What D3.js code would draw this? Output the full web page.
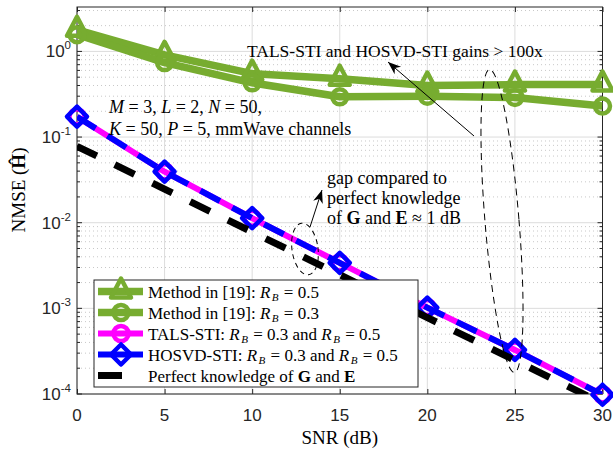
<!DOCTYPE html>
<html>
<head>
<meta charset="utf-8">
<script src="https://cdn.jsdelivr.net/npm/d3@7"></script>
<style>
  body { margin: 0; background: #fff; }
  svg { display: block; }
</style>
</head>
<body>
<main></main>
<script>
// NMSE vs SNR, log scale

const snr = [0, 5, 10, 15, 20, 25, 30];
const methodRb05 = [1.79, 0.91, 0.55, 0.48, 0.40, 0.41, 0.41];
const methodRb03 = [1.57, 0.74, 0.43, 0.295, 0.30, 0.29, 0.23];
const talsSti = [0.173, 0.0394, 0.0113, 0.0034, 0.00102, 0.000327, 0.000098];
const hosvdSti = [0.173, 0.0394, 0.0113, 0.0034, 0.00102, 0.000327, 0.000098];
const perfectCsi = [0.078, 0.0247, 0.0078, 0.00247, 0.00078, 0.000247, 0.000078];
const xTicks = [0, 5, 10, 15, 20, 25, 30];
const yTickExp = [0, -1, -2, -3, -4];

const w = 613, h = 450;
const pLeft = 77, pRight = 602.5, pTop = 7, pBottom = 394;
const green = "#77ac30";
const serif = "'Liberation Serif', 'Times New Roman', serif";
const sans = "'Liberation Sans', Arial, sans-serif";
const EQ = "\u2005=\u2005";

const svg = d3.select("main").append("svg").attr("width", w).attr("height", h);

const xScale = d3.scaleLinear().domain([0, 30]).range([pLeft, pRight]);
const yScale = d3.scaleLog().domain([1e-4, 3.3]).range([pBottom, pTop]);

// grid
const minorVals = [];
for (let e = -4; e <= 0; e++) {
  for (let m = 2; m <= 9; m++) {
    const v = m * Math.pow(10, e);
    if (v < 3.3) minorVals.push(v);
  }
}
const grid = svg.append("g");
grid.selectAll(".minor").data(minorVals).enter().append("line")
  .attr("x1", pLeft).attr("x2", pRight)
  .attr("y1", d => yScale(d)).attr("y2", d => yScale(d))
  .attr("stroke", "#c8c8c8").attr("stroke-width", 1).attr("stroke-dasharray", "1,3");
grid.selectAll(".majy").data(yTickExp).enter().append("line")
  .attr("x1", pLeft).attr("x2", pRight)
  .attr("y1", d => yScale(Math.pow(10, d))).attr("y2", d => yScale(Math.pow(10, d)))
  .attr("stroke", "#dcdcdc").attr("stroke-width", 1);
grid.selectAll(".majx").data(xTicks).enter().append("line")
  .attr("y1", pTop).attr("y2", pBottom)
  .attr("x1", d => xScale(d)).attr("x2", d => xScale(d))
  .attr("stroke", "#dcdcdc").attr("stroke-width", 1);

// axes box with inside ticks
const axes = svg.append("g");
axes.append("rect").attr("x", pLeft).attr("y", pTop)
  .attr("width", pRight - pLeft).attr("height", pBottom - pTop)
  .attr("fill", "none").attr("stroke", "#262626").attr("stroke-width", 1);

const xAxisB = d3.axisBottom(xScale).tickValues(xTicks).tickSize(-5).tickFormat("");
const xAxisT = d3.axisTop(xScale).tickValues(xTicks).tickSize(-5).tickFormat("");
axes.append("g").attr("transform", `translate(0,${pBottom})`).call(xAxisB);
axes.append("g").attr("transform", `translate(0,${pTop})`).call(xAxisT);
[pLeft, pRight].forEach((xx, i) => {
  const dir = i === 0 ? 1 : -1;
  axes.selectAll(null).data(yTickExp).enter().append("line")
    .attr("x1", xx).attr("x2", xx + dir * 5)
    .attr("y1", d => yScale(Math.pow(10, d))).attr("y2", d => yScale(Math.pow(10, d)))
    .attr("stroke", "#262626");
  axes.selectAll(null).data(minorVals).enter().append("line")
    .attr("x1", xx).attr("x2", xx + dir * 3)
    .attr("y1", d => yScale(d)).attr("y2", d => yScale(d))
    .attr("stroke", "#262626");
});
axes.selectAll(".domain").remove();
axes.selectAll(".tick line").attr("stroke", "#262626");

// tick labels
svg.selectAll(".xlab").data(xTicks).enter().append("text")
  .attr("x", d => xScale(d)).attr("y", 421)
  .attr("text-anchor", "middle").attr("font-family", sans).attr("font-size", 17)
  .attr("fill", "#262626").text(d => d);

yTickExp.forEach(e => {
  const t = svg.append("text")
    .attr("x", 71).attr("y", yScale(Math.pow(10, e)) + 6)
    .attr("text-anchor", "end").attr("font-family", sans).attr("font-size", 17)
    .attr("fill", "#262626");
  t.append("tspan").text("10");
  t.append("tspan").attr("font-size", 11.5).attr("dy", -8).text(e);
});

// rich text helper: segments [text, style]
function rich(g, x, y, segs, size, anchor) {
  const t = g.append("text").attr("x", x).attr("y", y)
    .attr("font-family", serif).attr("font-size", size).attr("fill", "#000")
    .attr("text-anchor", anchor || "start");
  let shift = 0;
  segs.forEach(s => {
    const sp = t.append("tspan").text(s[0]);
    const st = s[1] || "";
    if (st.includes("i")) sp.attr("font-style", "italic");
    if (st.includes("b")) sp.attr("font-weight", "bold");
    if (st.includes("s")) {
      sp.attr("font-size", size * 0.65).attr("dy", 3 - shift).attr("dx", 1.5);
      shift = 3;
    } else if (shift) {
      sp.attr("dy", -shift).attr("dx", 1);
      shift = 0;
    }
  });
  return t;
}

// axis labels
rich(svg, xScale(15), 444, [["SNR (dB)"]], 19, "middle");
const yl = svg.append("g").attr("transform", "translate(25,190) rotate(-90)");
rich(yl, 0, 0, [["NMSE ("], ["\u0124", "b"], [")"]], 19, "middle");

// series
svg.append("clipPath").attr("id", "plotclip").append("rect")
  .attr("x", pLeft).attr("y", pTop).attr("width", pRight - pLeft).attr("height", pBottom - pTop);

const series = [
  { vals: methodRb05, color: green, width: 7.5, dash: null, marker: "tri" },
  { vals: methodRb03, color: green, width: 7.5, dash: null, marker: "circ" },
  { vals: talsSti, color: "#ff00ff", width: 6, dash: null, marker: "circ" },
  { vals: hosvdSti, color: "#0000ff", width: 6, dash: "22,14", marker: "diam" },
  { vals: perfectCsi, color: "#000", width: 7, dash: "22,20", marker: null }
];

const line = d3.line().x(d => xScale(d[0])).y(d => yScale(d[1]));

function markerPath(type) {
  if (type === "tri") return "M0,-13 L10,6 L-10,6 Z";
  if (type === "diam") return "M0,-10 L10,0 L0,10 L-10,0 Z";
  return null;
}

function drawMarker(g, type, x, y, color) {
  if (!type) return;
  if (type === "circ") {
    g.append("circle").attr("cx", x).attr("cy", y).attr("r", 7.5)
      .attr("fill", "none").attr("stroke", color).attr("stroke-width", 4.5);
  } else {
    g.append("path").attr("d", markerPath(type))
      .attr("transform", `translate(${x},${y})`)
      .attr("fill", "none").attr("stroke", color).attr("stroke-width", 4.5)
      .attr("stroke-linejoin", "round");
  }
}

const plot = svg.append("g");
series.forEach(s => {
  const pts = snr.map((x, i) => [x, s.vals[i]]);
  plot.append("path").datum(pts).attr("d", line)
    .attr("clip-path", "url(#plotclip)")
    .attr("fill", "none").attr("stroke", s.color).attr("stroke-width", s.width)
    .attr("stroke-dasharray", s.dash).attr("stroke-linejoin", "round");
  pts.forEach(p => drawMarker(plot, s.marker, xScale(p[0]), yScale(p[1]), s.color));
});

// annotations
const ann = svg.append("g");
rich(ann, 247, 57, [["TALS-STI and HOSVD-STI gains > 100x"]], 17.5);
rich(ann, 109, 113, [["M", "i"], [EQ + "3, "], ["L", "i"], [EQ + "2, "], ["N", "i"], [EQ + "50,"]], 18);
rich(ann, 109, 135, [["K", "i"], [EQ + "50, "], ["P", "i"], [EQ + "5, mmWave channels"]], 18);
rich(ann, 327, 184, [["gap compared to"]], 18);
rich(ann, 327, 204, [["perfect knowledge"]], 18);
rich(ann, 327, 224, [["of "], ["G", "b"], [" and "], ["E", "b"], ["\u2005\u2248\u20051 dB"]], 18);

// ellipses
ann.append("ellipse").attr("cx", 0).attr("cy", 0).attr("rx", 17).attr("ry", 152)
  .attr("transform", "translate(502,221) rotate(-4.7)")
  .attr("fill", "none").attr("stroke", "#000").attr("stroke-dasharray", "7,5");
ann.append("ellipse").attr("cx", 0).attr("cy", 0).attr("rx", 13).attr("ry", 26)
  .attr("transform", "translate(305,249) rotate(-8)")
  .attr("fill", "none").attr("stroke", "#000").attr("stroke-dasharray", "5,4");

// arrows
function arrow(x1, y1, x2, y2) {
  ann.append("line").attr("x1", x1).attr("y1", y1).attr("x2", x2).attr("y2", y2)
    .attr("stroke", "#000").attr("stroke-width", 1);
  const a = Math.atan2(y2 - y1, x2 - x1);
  const L = 13, W = 5;
  const bx = x2 - L * Math.cos(a), by = y2 - L * Math.sin(a);
  const nx = -Math.sin(a), ny = Math.cos(a);
  const mx = x2 - L * 0.7 * Math.cos(a), my = y2 - L * 0.7 * Math.sin(a);
  ann.append("path")
    .attr("d", `M${x2},${y2} L${bx + nx * W},${by + ny * W} L${mx},${my} L${bx - nx * W},${by - ny * W} Z`)
    .attr("fill", "#000");
}
arrow(474, 136, 388, 62);
arrow(310, 227, 322, 190);

// legend
const lg = svg.append("g");
const lgX = 94, lgY = 280, lgW = 324, lgH = 107;
lg.append("rect").attr("x", lgX).attr("y", lgY).attr("width", lgW).attr("height", lgH)
  .attr("fill", "#fff").attr("stroke", "#262626").attr("stroke-width", 1);
const legendRows = [
  [["Method in [19]: "], ["R", "i"], ["B", "is"], [EQ + "0.5"]],
  [["Method in [19]: "], ["R", "i"], ["B", "is"], [EQ + "0.3"]],
  [["TALS-STI: "], ["R", "i"], ["B", "is"], [EQ + "0.3 and "], ["R", "i"], ["B", "is"], [EQ + "0.5"]],
  [["HOSVD-STI: "], ["R", "i"], ["B", "is"], [EQ + "0.3 and "], ["R", "i"], ["B", "is"], [EQ + "0.5"]],
  [["Perfect knowledge of "], ["G", "b"], [" and "], ["E", "b"]]
];
legendRows.forEach((row, i) => {
  const s = series[i];
  const cy = 291.5 + i * 21;
  const x2 = s.marker ? 143 : 122;
  lg.append("line").attr("x1", 98).attr("x2", x2).attr("y1", cy).attr("y2", cy)
    .attr("stroke", s.color).attr("stroke-width", s.width);
  drawMarker(lg, s.marker, 121, cy, s.color);
  rich(lg, 148, cy + 6, row, 17);
});
</script>
</body>
</html>
